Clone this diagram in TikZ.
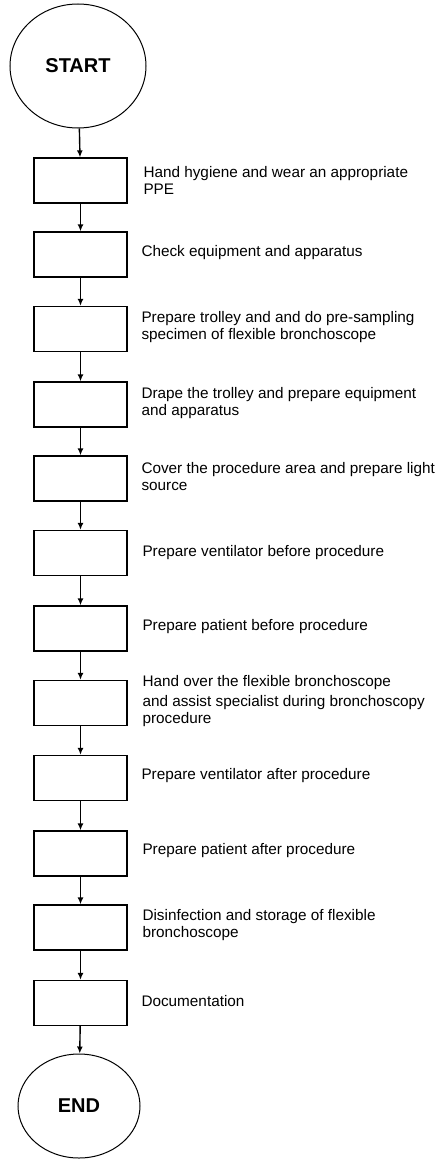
\documentclass[tikz,border=0pt]{standalone}
\usepackage{fontspec}
\setmainfont{Liberation Sans}
\usetikzlibrary{arrows.meta, shapes.geometric}

\tikzset{
  stepbox/.style={draw, rectangle, line width=1.3pt, minimum width=93pt, minimum height=45pt},
  terminal/.style={draw, ellipse, line width=1pt, font=\fontsize{20}{22}\selectfont\bfseries},
  note/.style={anchor=west, align=left, font=\fontsize{15.3}{17}\selectfont},
  flow/.style={-{Latex[length=7pt, width=6pt]}, line width=1.4pt}
}

\begin{document}
\begin{tikzpicture}[x=1pt, y=-1pt]
  \useasboundingbox (0,0) rectangle (443,1159);

  % start and end
  \node[terminal, minimum width=136pt, minimum height=124pt] (start) at (78,66) {START};
  \node[terminal, minimum width=122pt, minimum height=104pt] (end) at (79,1106) {END};

  % steps
  \node[stepbox] (s1)  at (80.5,180.5) {};
  \node[stepbox] (s2)  at (80.5,254.5) {};
  \node[stepbox] (s3)  at (80.5,329) {};
  \node[stepbox] (s4)  at (80.5,404.5) {};
  \node[stepbox] (s5)  at (80.5,478.5) {};
  \node[stepbox] (s6)  at (80.5,553) {};
  \node[stepbox] (s7)  at (80.5,628.5) {};
  \node[stepbox] (s8)  at (80.5,703) {};
  \node[stepbox] (s9)  at (80.5,778) {};
  \node[stepbox] (s10) at (80.5,853.5) {};
  \node[stepbox] (s11) at (80.5,927.5) {};
  \node[stepbox] (s12) at (80.5,1003) {};

  % descriptions
  \node[note] (t1)  at (140,180) {Hand hygiene and wear an appropriate\\PPE};
  \node[note] (t2)  at (138,253) {Check equipment and apparatus};
  \node[note] (t3)  at (138,327) {Prepare trolley and and do pre-sampling\\specimen of flexible bronchoscope};
  \node[note] (t4)  at (138,403) {Drape the trolley and prepare equipment\\and apparatus};
  \node[note] (t5)  at (138,477) {Cover the procedure area and prepare light\\source};
  \node[note] (t6)  at (139,553) {Prepare ventilator before procedure};
  \node[note] (t7)  at (139,627) {Prepare patient before procedure};
  \node[note] (t8)  at (139,701) {Hand over the flexible bronchoscope\\[3pt]and assist specialist during bronchoscopy\\procedure};
  \node[note] (t9)  at (138,776) {Prepare ventilator after procedure};
  \node[note] (t10) at (139,851) {Prepare patient after procedure};
  \node[note] (t11) at (139,925) {Disinfection and storage of flexible\\bronchoscope};
  \node[note] (t12) at (138,1001) {Documentation};

  % connectors
  \draw[flow] (start) -- (s1);
  \draw[flow] (s1) -- (s2);
  \draw[flow] (s2) -- (s3);
  \draw[flow] (s3) -- (s4);
  \draw[flow] (s4) -- (s5);
  \draw[flow] (s5) -- (s6);
  \draw[flow] (s6) -- (s7);
  \draw[flow] (s7) -- (s8);
  \draw[flow] (s8) -- (s9);
  \draw[flow] (s9) -- (s10);
  \draw[flow] (s10) -- (s11);
  \draw[flow] (s11) -- (s12);
  \draw[flow] (s12) -- (end);
\end{tikzpicture}
\end{document}
